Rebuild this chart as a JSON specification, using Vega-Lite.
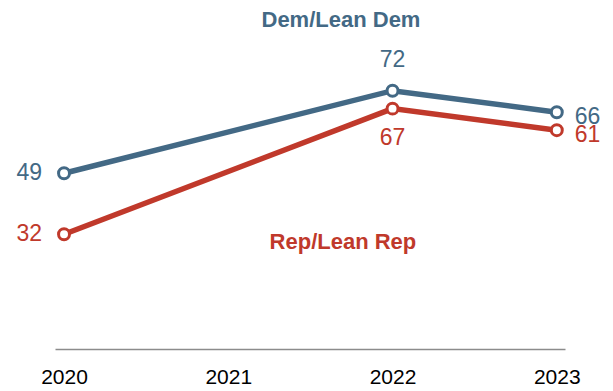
{
  "$schema": "https://vega.github.io/schema/vega-lite/v6.json",
  "width": 510,
  "height": 287,
  "autosize": "none",
  "padding": {"left": 55, "top": 62, "right": 48, "bottom": 42},
  "background": "white",
  "config": {"view": {"stroke": null}, "font": "Liberation Sans"},
  "datasets": {
    "series": [
      {"year": 2020, "value": 49, "party": "Dem"},
      {"year": 2022, "value": 72, "party": "Dem"},
      {"year": 2023, "value": 66, "party": "Dem"},
      {"year": 2020, "value": 32, "party": "Rep"},
      {"year": 2022, "value": 67, "party": "Rep"},
      {"year": 2023, "value": 61, "party": "Rep"}
    ],
    "names": [
      {"year": 2021.686, "value": 91.6, "party": "Dem", "name": "Dem/Lean Dem"},
      {"year": 2021.698, "value": 29.8, "party": "Rep", "name": "Rep/Lean Rep"}
    ]
  },
  "encoding": {
    "x": {
      "field": "year", "type": "quantitative",
      "scale": {"domain": [2019.945, 2023.05], "nice": false, "zero": false},
      "axis": {
        "title": null, "values": [2020, 2021, 2022, 2023], "format": "d",
        "grid": false, "ticks": false, "domainColor": "#8c8c8c", "domainWidth": 1.5,
        "labelFontSize": 21, "labelColor": "#000000", "labelPadding": 17, "labelFlush": false
      }
    },
    "y": {
      "field": "value", "type": "quantitative",
      "scale": {"domain": [0, 80], "nice": false},
      "axis": null
    },
    "color": {
      "field": "party", "type": "nominal",
      "scale": {"domain": ["Dem", "Rep"], "range": ["#436985", "#c0392b"]},
      "legend": null
    }
  },
  "layer": [
    {
      "data": {"name": "series"},
      "mark": {"type": "line", "strokeWidth": 5.5}
    },
    {
      "data": {"name": "series"},
      "mark": {"type": "point", "filled": false, "fill": "white", "fillOpacity": 1, "strokeWidth": 3, "size": 120, "opacity": 1}
    },
    {
      "data": {"name": "series"},
      "transform": [{"filter": "datum.year == 2020"}],
      "mark": {"type": "text", "fontSize": 23, "align": "right", "baseline": "middle", "dx": -22},
      "encoding": {"text": {"field": "value"}}
    },
    {
      "data": {"name": "series"},
      "transform": [{"filter": "datum.year == 2023"}],
      "mark": {"type": "text", "fontSize": 23, "align": "left", "baseline": "middle", "dx": 18},
      "encoding": {
        "text": {"field": "value"},
        "yOffset": {"condition": {"test": "datum.party == 'Dem'", "value": -8}, "value": 5}
      }
    },
    {
      "data": {"name": "series"},
      "transform": [{"filter": "datum.year == 2022 && datum.party == 'Dem'"}],
      "mark": {"type": "text", "fontSize": 23, "align": "center", "baseline": "middle", "dy": -31},
      "encoding": {"text": {"field": "value"}}
    },
    {
      "data": {"name": "series"},
      "transform": [{"filter": "datum.year == 2022 && datum.party == 'Rep'"}],
      "mark": {"type": "text", "fontSize": 23, "align": "center", "baseline": "middle", "dy": 29},
      "encoding": {"text": {"field": "value"}}
    },
    {
      "data": {"name": "names"},
      "mark": {"type": "text", "fontSize": 22, "fontWeight": "bold", "align": "center", "baseline": "middle"},
      "encoding": {"text": {"field": "name"}}
    }
  ]
}
